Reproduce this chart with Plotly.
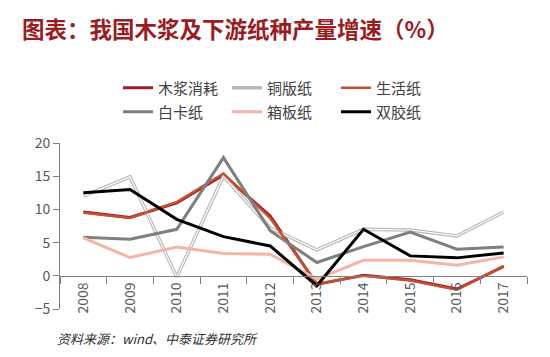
import plotly.graph_objects as go

years = ["2008", "2009", "2010", "2011", "2012", "2013", "2014", "2015", "2016", "2017"]
pulp = [9.6, 8.8, 11.0, 15.2, 9.0, -1.3, 0.1, -0.6, -2.0, 1.4]        # 木浆消耗
coated = [12.0, 14.9, -0.2, 15.0, 7.2, 3.9, 7.0, 6.9, 6.0, 9.6]       # 铜版纸
tissue = [9.5, 8.7, 11.1, 15.4, 8.7, -1.2, 0.0, -0.7, -2.1, 1.5]      # 生活纸
whiteboard = [5.8, 5.5, 7.0, 17.8, 6.8, 2.0, 4.4, 6.6, 4.0, 4.35]     # 白卡纸
container = [5.7, 2.75, 4.35, 3.35, 3.25, -0.5, 2.35, 2.35, 1.6, 2.85]  # 箱板纸
offset = [12.5, 13.0, 8.5, 5.9, 4.5, -1.5, 7.0, 3.0, 2.7, 3.45]       # 双胶纸

FONT = "Noto Sans CJK SC"
fig = go.Figure()

def add(name, y, color, width, legend):
    fig.add_trace(go.Scatter(x=years, y=y, mode="lines", name=name,
                             line=dict(color=color, width=width),
                             legend=legend))

add("木浆消耗", pulp, "#9b1b30", 3, "legend")
add("铜版纸", coated, "#b8b8b8", 3.5, "legend")
fig.add_trace(go.Scatter(x=years, y=coated, mode="lines", showlegend=False,
                         line=dict(color="white", width=1.2), hoverinfo="skip"))
add("生活纸", tissue, "#c4502c", 2.5, "legend")
add("白卡纸", whiteboard, "#7f7f7f", 3, "legend2")
add("箱板纸", container, "#f2b5a8", 3, "legend2")
add("双胶纸", offset, "#000000", 3, "legend2")

leg = dict(orientation="h", xref="container", yref="container",
           xanchor="left", yanchor="middle",
           font=dict(family=FONT, size=15, color="#404040"),
           entrywidth=64, entrywidthmode="pixels", bgcolor="rgba(0,0,0,0)",
           traceorder="normal")

fig.update_layout(
    width=550, height=357,
    margin=dict(l=60, r=23, t=143, b=48, autoexpand=False),
    paper_bgcolor="white", plot_bgcolor="white",
    font=dict(family=FONT, color="#404040"),
    title=dict(text="图表：我国木浆及下游纸种产量增速（%）", xref="container", yref="container",
               x=22/550, y=1-30/357, xanchor="left", yanchor="middle",
               font=dict(family=FONT, size=22.5, color="#9b1b1e", weight="bold")),
    legend=dict(leg, x=118/550, y=1-88/357),
    legend2=dict(leg, x=118/550, y=1-112/357),
    xaxis=dict(type="category", anchor="free", position=0.2,
               showline=True, linecolor="#808080", linewidth=1,
               ticks="outside", tickson="boundaries", ticklen=7, tickcolor="#808080",
               tickangle=-90, showgrid=False, zeroline=False,
               tickfont=dict(family=FONT, size=14, color="#595959"),
               range=[-0.5, 9.5]),
    yaxis=dict(range=[-5, 20], tickvals=[-5, 0, 5, 10, 15, 20],
               showline=True, linecolor="#808080", linewidth=1,
               ticks="outside", ticklen=6, tickcolor="#808080",
               showgrid=False, zeroline=False,
               tickfont=dict(family=FONT, size=14, color="#595959")),
    showlegend=True,
)

fig.add_annotation(text="<i>资料来源：wind、中泰证券研究所</i>", xref="paper", yref="paper",
                   x=-0.01, y=(309-338)/166, xanchor="left", yanchor="middle", showarrow=False,
                   font=dict(family=FONT, size=13, color="#303030"))

fig.write_html("out.html", config={"displayModeBar": False},
               post_script="document.body.style.margin='0';")
